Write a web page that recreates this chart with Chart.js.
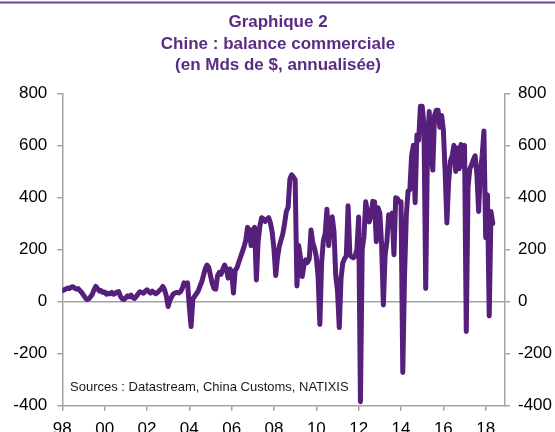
<!DOCTYPE html>
<html><head><meta charset="utf-8">
<script src="https://cdn.jsdelivr.net/npm/chart.js@4.4.1/dist/chart.umd.min.js"></script>
<style>html,body{margin:0;padding:0;background:#fff;}#wrap{position:relative;width:555px;height:432px;}</style>
</head><body><div id="wrap"><canvas id="c" width="555" height="432"></canvas></div>
<script>
const titleLines = ["Graphique 2", "Chine : balance commerciale", "(en Mds de $, annualisée)"];
const sourceText = "Sources : Datastream, China Customs, NATIXIS";
const startYear = 1998;
// monthly trade balance, annualised (bn $), Jan 1998 .. May 2018
const v1998 = [42, 45, 48, 52, 50, 55, 57, 52, 48, 50, 42, 35];
const v1999 = [25, 15, 8, 10, 18, 28, 45, 58, 50, 40, 42, 35];
const v2000 = [37, 28, 32, 30, 35, 28, 32, 36, 38, 20, 10, 8];
const v2001 = [15, 22, 18, 25, 15, 12, 20, 30, 38, 35, 32, 40];
const v2002 = [45, 38, 33, 40, 35, 30, 35, 42, 48, 58, 45, 20];
const v2003 = [-19, 5, 18, 30, 33, 35, 33, 38, 50, 72, 65, 72];
const v2004 = [-20, -96, 10, 20, 30, 40, 58, 75, 100, 125, 140, 132];
const v2005 = [100, 70, 50, 48, 100, 112, 105, 125, 140, 125, 90, 125];
const v2006 = [115, 33, 120, 130, 150, 170, 190, 210, 235, 285, 275, 215];
const v2007 = [275, 285, 83, 230, 290, 322, 318, 308, 315, 322, 302, 265];
const v2008 = [200, 100, 170, 212, 237, 260, 300, 346, 362, 470, 487, 478];
const v2009 = [468, 60, 215, 170, 96, 140, 160, 150, 165, 275, 225, 205];
const v2010 = [170, 95, -88, 150, 235, 260, 355, 215, 320, 325, 270, 100];
const v2011 = [40, -100, 90, 148, 165, 175, 368, 180, 172, 168, 175, 200];
const v2012 = [325, -385, 200, 250, 383, 340, 306, 330, 385, 383, 230, 360];
const v2013 = [340, 220, -13, 180, 230, 333, 330, 340, 180, 399, 395, 383];
const v2014 = [383, -272, 100, 330, 425, 430, 560, 600, 380, 640, 620, 750];
const v2015 = [750, 680, 50, 590, 730, 570, 505, 715, 735, 735, 670, 715];
const v2016 = [660, 500, 302, 460, 540, 560, 600, 500, 590, 510, 603, 520];
const v2017 = [600, -115, 440, 510, 525, 545, 560, 490, 346, 500, 560, 655];
const v2018 = [245, 410, -55, 346, 300];
const yearlySeries = [v1998, v1999, v2000, v2001, v2002, v2003, v2004, v2005, v2006, v2007,
  v2008, v2009, v2010, v2011, v2012, v2013, v2014, v2015, v2016, v2017, v2018];
const xTickYears = [1998, 2000, 2002, 2004, 2006, 2008, 2010, 2012, 2014, 2016, 2018];
const yTickValues = [-400, -200, 0, 200, 400, 600, 800];

const points = [];
yearlySeries.forEach((arr, yi) => arr.forEach((v, mi) => points.push({x: startYear + yi + mi / 12, y: v})));

const FONT = "'Liberation Sans', Arial, sans-serif";
const PURPLE = '#561f7b';
const AXIS = '#a3a3a3';

const decor = {
  id: 'decor',
  afterDraw(chart) {
    const ctx = chart.ctx;
    ctx.save();
    ctx.strokeStyle = '#6b3f93';
    ctx.lineWidth = 2;
    ctx.beginPath(); ctx.moveTo(0, 2.5); ctx.lineTo(555, 2.5); ctx.stroke();
    ctx.fillStyle = '#5b2c83';
    ctx.font = 'bold 17px ' + FONT;
    ctx.textAlign = 'center';
    ctx.textBaseline = 'alphabetic';
    const ys = [27, 49, 70];
    titleLines.forEach((t, i) => ctx.fillText(t, 278, ys[i]));
    ctx.fillStyle = '#1a1a1a';
    ctx.font = '13px ' + FONT;
    ctx.textAlign = 'left';
    ctx.fillText(sourceText, 70, 391);
    ctx.restore();
  }
};

const yTicksCfg = (align) => ({
  font: {family: FONT, size: 17}, color: '#000', padding: align === 'left' ? 10 : 8,
});

new Chart(document.getElementById('c'), {
  type: 'line',
  data: {datasets: [{
    data: points, borderColor: PURPLE, borderWidth: 5, pointRadius: 0,
    tension: 0, borderJoinStyle: 'round', borderCapStyle: 'round', fill: false
  }]},
  options: {
    responsive: false, animation: false, devicePixelRatio: 1,
    layout: {padding: {top: 93.3, left: 0, right: 0, bottom: 0}},
    plugins: {legend: {display: false}, tooltip: {enabled: false}, title: {display: false}},
    scales: {
      x: {
        type: 'linear', min: 1998, max: 2018.912,
        afterBuildTicks: s => { s.ticks = xTickYears.map(v => ({value: v})); },
        afterFit: s => { s.height = 26.3; },
        ticks: {font: {family: FONT, size: 17}, color: '#000', padding: 8, maxRotation: 0, autoSkip: false,
          callback: v => String(v % 100).padStart(2, '0')},
        grid: {drawOnChartArea: false, color: AXIS, tickLength: 5, lineWidth: 1.5},
        border: {color: AXIS, width: 1.5}
      },
      y: {
        position: 'left', min: -400, max: 800,
        afterBuildTicks: s => { s.ticks = yTickValues.map(v => ({value: v})); },
        afterFit: s => { s.width = 62.3; },
        ticks: yTicksCfg('left'),
        grid: {color: c => (c.tick && c.tick.value === 0) ? AXIS : 'rgba(0,0,0,0)', tickColor: AXIS, tickLength: 5, lineWidth: 1.5},
        border: {color: AXIS, width: 1.5}
      },
      y2: {
        position: 'right', min: -400, max: 800,
        afterBuildTicks: s => { s.ticks = yTickValues.map(v => ({value: v})); },
        afterFit: s => { s.width = 50; },
        ticks: yTicksCfg('right'),
        grid: {drawOnChartArea: false, color: AXIS, tickLength: 5, lineWidth: 1.5},
        border: {color: AXIS, width: 1.5}
      }
    }
  },
  plugins: [decor]
});
</script></body></html>
